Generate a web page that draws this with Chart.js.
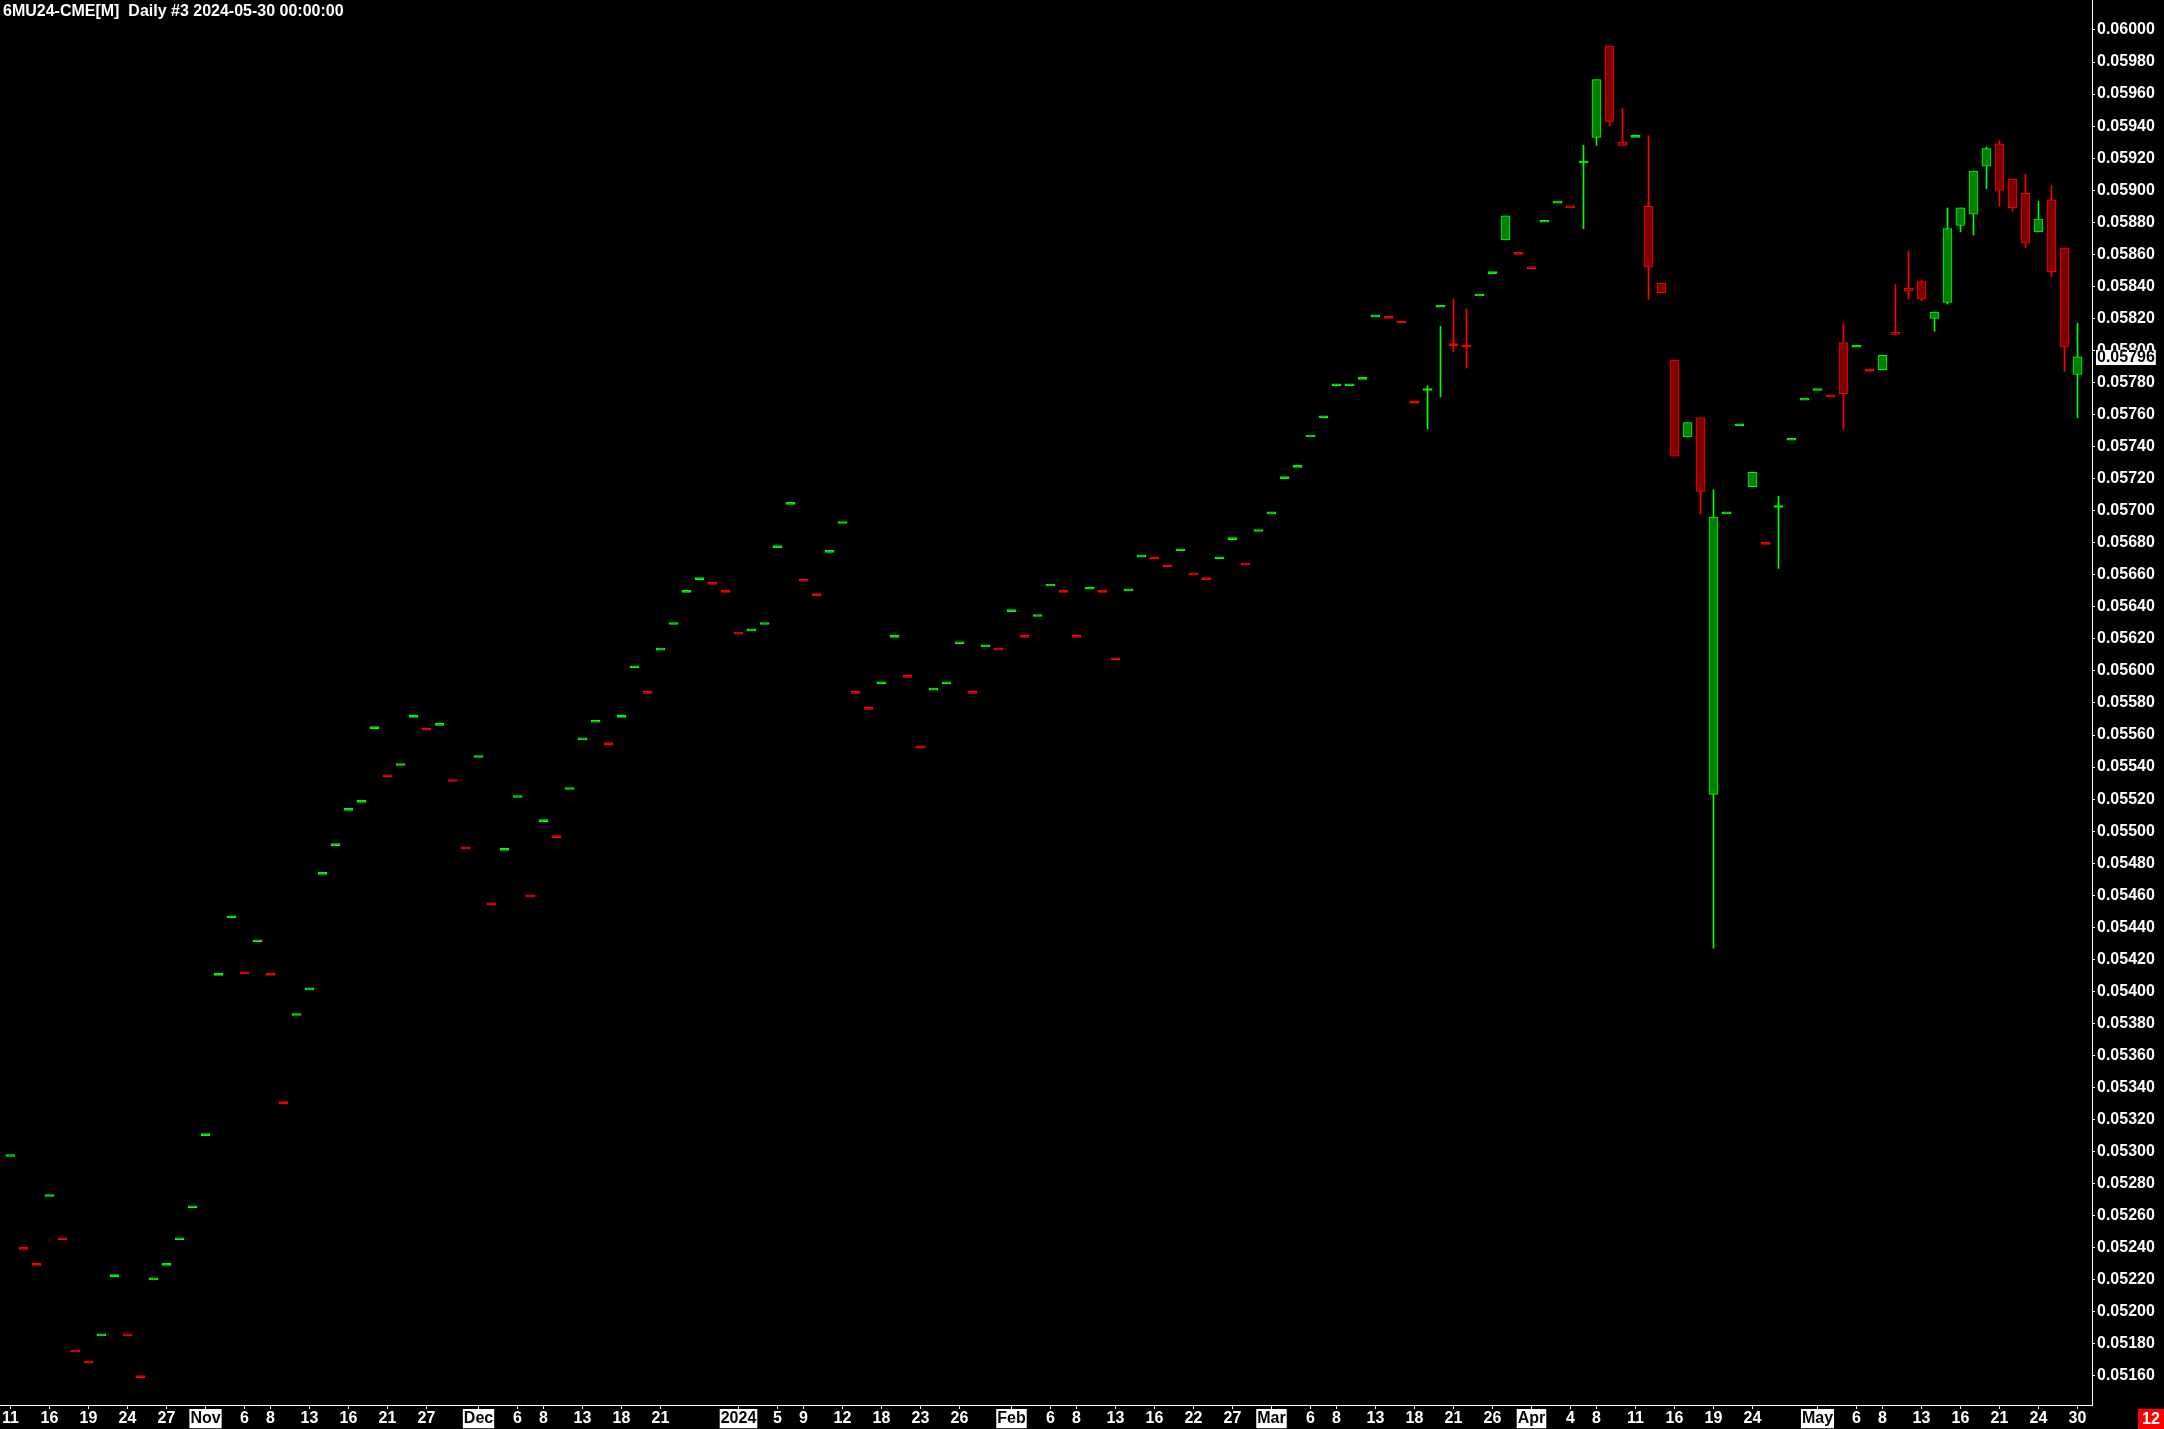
<!DOCTYPE html>
<html>
<head>
<meta charset="utf-8">
<title>6MU24-CME Daily</title>
<script src="https://cdn.jsdelivr.net/npm/chart.js@4.4.1/dist/chart.umd.min.js"></script>
<style>
  html, body { margin: 0; padding: 0; background: #000; }
  canvas { display: block; }
</style>
</head>
<body>
<canvas id="candleChart" width="2164" height="1429"></canvas>
<script>
// trading days on the chart
var dates = [
  '2023-10-11','2023-10-12','2023-10-13','2023-10-16','2023-10-17','2023-10-18','2023-10-19','2023-10-20','2023-10-23','2023-10-24',
  '2023-10-25','2023-10-26','2023-10-27','2023-10-30','2023-10-31','2023-11-01','2023-11-02','2023-11-03','2023-11-06','2023-11-07',
  '2023-11-08','2023-11-09','2023-11-10','2023-11-13','2023-11-14','2023-11-15','2023-11-16','2023-11-17','2023-11-20','2023-11-21',
  '2023-11-22','2023-11-24','2023-11-27','2023-11-28','2023-11-29','2023-11-30','2023-12-01','2023-12-04','2023-12-05','2023-12-06',
  '2023-12-07','2023-12-08','2023-12-11','2023-12-12','2023-12-13','2023-12-14','2023-12-15','2023-12-18','2023-12-19','2023-12-20',
  '2023-12-21','2023-12-22','2023-12-26','2023-12-27','2023-12-28','2023-12-29','2024-01-02','2024-01-03','2024-01-04','2024-01-05',
  '2024-01-08','2024-01-09','2024-01-10','2024-01-11','2024-01-12','2024-01-16','2024-01-17','2024-01-18','2024-01-19','2024-01-22',
  '2024-01-23','2024-01-24','2024-01-25','2024-01-26','2024-01-29','2024-01-30','2024-01-31','2024-02-01','2024-02-02','2024-02-05',
  '2024-02-06','2024-02-07','2024-02-08','2024-02-09','2024-02-12','2024-02-13','2024-02-14','2024-02-15','2024-02-16','2024-02-20',
  '2024-02-21','2024-02-22','2024-02-23','2024-02-26','2024-02-27','2024-02-28','2024-02-29','2024-03-01','2024-03-04','2024-03-05',
  '2024-03-06','2024-03-07','2024-03-08','2024-03-11','2024-03-12','2024-03-13','2024-03-14','2024-03-15','2024-03-18','2024-03-19',
  '2024-03-20','2024-03-21','2024-03-22','2024-03-25','2024-03-26','2024-03-27','2024-03-28','2024-04-01','2024-04-02','2024-04-03',
  '2024-04-04','2024-04-05','2024-04-08','2024-04-09','2024-04-10','2024-04-11','2024-04-12','2024-04-15','2024-04-16','2024-04-17',
  '2024-04-18','2024-04-19','2024-04-22','2024-04-23','2024-04-24','2024-04-25','2024-04-26','2024-04-29','2024-04-30','2024-05-01',
  '2024-05-02','2024-05-03','2024-05-06','2024-05-07','2024-05-08','2024-05-09','2024-05-10','2024-05-13','2024-05-14','2024-05-15',
  '2024-05-16','2024-05-17','2024-05-20','2024-05-21','2024-05-22','2024-05-23','2024-05-24','2024-05-28','2024-05-29','2024-05-30'
];

var opens = [
  0.05297,0.05239,0.05229,0.05272,0.05245,0.05175,0.05168,0.05185,0.05222,0.05185,
  0.05159,0.05220,0.05229,0.05245,0.05265,0.05310,0.05410,0.05446,0.05411,0.05431,
  0.05410,0.05330,0.05385,0.05401,0.05473,0.05491,0.05513,0.05518,0.05564,0.05534,
  0.05541,0.05571,0.05563,0.05566,0.05531,0.05489,0.05546,0.05454,0.05488,0.05521,
  0.05459,0.05506,0.05496,0.05526,0.05557,0.05568,0.05554,0.05571,0.05602,0.05586,
  0.05613,0.05629,0.05649,0.05657,0.05654,0.05649,0.05623,0.05625,0.05629,0.05677,
  0.05704,0.05656,0.05647,0.05674,0.05692,0.05586,0.05576,0.05592,0.05621,0.05596,
  0.05552,0.05588,0.05592,0.05617,0.05586,0.05615,0.05613,0.05637,0.05621,0.05634,
  0.05653,0.05649,0.05621,0.05651,0.05649,0.05607,0.05650,0.05671,0.05670,0.05665,
  0.05675,0.05660,0.05657,0.05670,0.05682,0.05666,0.05687,0.05698,0.05720,0.05727,
  0.05746,0.05758,0.05778,0.05778,0.05782,0.05821,0.05820,0.05817,0.05767,0.05775,
  0.05827,0.05803,0.05802,0.05834,0.05848,0.05869,0.05860,0.05851,0.05880,0.05892,
  0.05889,0.05917,0.05933,0.05990,0.05930,0.05933,0.05890,0.05842,0.05794,0.05746,
  0.05758,0.05523,0.05698,0.05753,0.05715,0.05679,0.05702,0.05744,0.05769,0.05775,
  0.05771,0.05805,0.05802,0.05787,0.05788,0.05811,0.05839,0.05843,0.05820,0.05830,
  0.05878,0.05885,0.05915,0.05929,0.05907,0.05898,0.05874,0.05894,0.05864,0.05785
];

var highs = [
  0.05297,0.05239,0.05229,0.05272,0.05245,0.05175,0.05168,0.05185,0.05222,0.05185,
  0.05159,0.05220,0.05229,0.05245,0.05265,0.05310,0.05410,0.05446,0.05411,0.05431,
  0.05410,0.05330,0.05385,0.05401,0.05473,0.05491,0.05513,0.05518,0.05564,0.05534,
  0.05541,0.05571,0.05563,0.05566,0.05531,0.05489,0.05546,0.05454,0.05488,0.05521,
  0.05459,0.05506,0.05496,0.05526,0.05557,0.05568,0.05554,0.05571,0.05602,0.05586,
  0.05613,0.05629,0.05649,0.05657,0.05654,0.05649,0.05623,0.05625,0.05629,0.05677,
  0.05704,0.05656,0.05647,0.05674,0.05692,0.05586,0.05576,0.05592,0.05621,0.05596,
  0.05552,0.05588,0.05592,0.05617,0.05586,0.05615,0.05613,0.05637,0.05621,0.05634,
  0.05653,0.05649,0.05621,0.05651,0.05649,0.05607,0.05650,0.05671,0.05670,0.05665,
  0.05675,0.05660,0.05657,0.05670,0.05682,0.05666,0.05687,0.05698,0.05720,0.05727,
  0.05746,0.05758,0.05778,0.05778,0.05782,0.05821,0.05820,0.05817,0.05767,0.05778,
  0.05815,0.05832,0.05826,0.05834,0.05848,0.05884,0.05860,0.05851,0.05880,0.05892,
  0.05889,0.05928,0.05969,0.05990,0.05951,0.05933,0.05934,0.05842,0.05794,0.05755,
  0.05758,0.05713,0.05698,0.05753,0.05724,0.05679,0.05709,0.05744,0.05769,0.05775,
  0.05771,0.05817,0.05802,0.05787,0.05797,0.05841,0.05862,0.05844,0.05824,0.05889,
  0.05889,0.05912,0.05927,0.05931,0.05907,0.05910,0.05893,0.05903,0.05864,0.05817
];

var lows = [
  0.05297,0.05239,0.05229,0.05272,0.05245,0.05175,0.05168,0.05185,0.05222,0.05185,
  0.05159,0.05220,0.05229,0.05245,0.05265,0.05310,0.05410,0.05446,0.05411,0.05431,
  0.05410,0.05330,0.05385,0.05401,0.05473,0.05491,0.05513,0.05518,0.05564,0.05534,
  0.05541,0.05571,0.05563,0.05566,0.05531,0.05489,0.05546,0.05454,0.05488,0.05521,
  0.05459,0.05506,0.05496,0.05526,0.05557,0.05568,0.05554,0.05571,0.05602,0.05586,
  0.05613,0.05629,0.05649,0.05657,0.05654,0.05649,0.05623,0.05625,0.05629,0.05677,
  0.05704,0.05656,0.05647,0.05674,0.05692,0.05586,0.05576,0.05592,0.05621,0.05596,
  0.05552,0.05588,0.05592,0.05617,0.05586,0.05615,0.05613,0.05637,0.05621,0.05634,
  0.05653,0.05649,0.05621,0.05651,0.05649,0.05607,0.05650,0.05671,0.05670,0.05665,
  0.05675,0.05660,0.05657,0.05670,0.05682,0.05666,0.05687,0.05698,0.05720,0.05727,
  0.05746,0.05758,0.05778,0.05778,0.05782,0.05821,0.05820,0.05817,0.05767,0.05751,
  0.05771,0.05799,0.05789,0.05834,0.05848,0.05869,0.05860,0.05851,0.05880,0.05892,
  0.05889,0.05876,0.05928,0.05940,0.05928,0.05933,0.05832,0.05836,0.05734,0.05746,
  0.05698,0.05427,0.05698,0.05753,0.05715,0.05679,0.05664,0.05744,0.05769,0.05775,
  0.05771,0.05751,0.05802,0.05787,0.05788,0.05810,0.05832,0.05831,0.05812,0.05829,
  0.05874,0.05872,0.05901,0.05890,0.05887,0.05864,0.05874,0.05846,0.05787,0.05758
];

var closes = [
  0.05297,0.05239,0.05229,0.05272,0.05245,0.05175,0.05168,0.05185,0.05222,0.05185,
  0.05159,0.05220,0.05229,0.05245,0.05265,0.05310,0.05410,0.05446,0.05411,0.05431,
  0.05410,0.05330,0.05385,0.05401,0.05473,0.05491,0.05513,0.05518,0.05564,0.05534,
  0.05541,0.05571,0.05563,0.05566,0.05531,0.05489,0.05546,0.05454,0.05488,0.05521,
  0.05459,0.05506,0.05496,0.05526,0.05557,0.05568,0.05554,0.05571,0.05602,0.05586,
  0.05613,0.05629,0.05649,0.05657,0.05654,0.05649,0.05623,0.05625,0.05629,0.05677,
  0.05704,0.05656,0.05647,0.05674,0.05692,0.05586,0.05576,0.05592,0.05621,0.05596,
  0.05552,0.05588,0.05592,0.05617,0.05586,0.05615,0.05613,0.05637,0.05621,0.05634,
  0.05653,0.05649,0.05621,0.05651,0.05649,0.05607,0.05650,0.05671,0.05670,0.05665,
  0.05675,0.05660,0.05657,0.05670,0.05682,0.05666,0.05687,0.05698,0.05720,0.05727,
  0.05746,0.05758,0.05778,0.05778,0.05782,0.05821,0.05820,0.05817,0.05767,0.05775,
  0.05827,0.05803,0.05802,0.05834,0.05848,0.05884,0.05860,0.05851,0.05880,0.05892,
  0.05889,0.05917,0.05969,0.05943,0.05928,0.05933,0.05852,0.05836,0.05734,0.05755,
  0.05712,0.05696,0.05698,0.05753,0.05724,0.05679,0.05702,0.05744,0.05769,0.05775,
  0.05771,0.05773,0.05802,0.05787,0.05797,0.05810,0.05837,0.05832,0.05824,0.05876,
  0.05889,0.05912,0.05926,0.05900,0.05889,0.05867,0.05882,0.05849,0.05802,0.05796
];

// dates that get a label on the time axis
var xTickDates = [
  '2023-10-11','2023-10-16','2023-10-19','2023-10-24','2023-10-27','2023-11-01','2023-11-06','2023-11-08',
  '2023-11-13','2023-11-16','2023-11-21','2023-11-27','2023-12-01','2023-12-06','2023-12-08','2023-12-13',
  '2023-12-18','2023-12-21','2024-01-02','2024-01-05','2024-01-09','2024-01-12','2024-01-18','2024-01-23',
  '2024-01-26','2024-02-01','2024-02-06','2024-02-08','2024-02-13','2024-02-16','2024-02-22','2024-02-27',
  '2024-03-01','2024-03-06','2024-03-08','2024-03-13','2024-03-18','2024-03-21','2024-03-26','2024-04-01',
  '2024-04-04','2024-04-08','2024-04-11','2024-04-16','2024-04-19','2024-04-24','2024-05-01','2024-05-06',
  '2024-05-08','2024-05-13','2024-05-16','2024-05-21','2024-05-24','2024-05-30'
];
var monthNames = ['Jan','Feb','Mar','Apr','May','Jun','Jul','Aug','Sep','Oct','Nov','Dec'];

var chartTitle = '6MU24-CME[M]  Daily #3 2024-05-30 00:00:00';
var cornerTag = '12';

//-------------
//- layout of the price window
//-------------
var AXIS_W = 72;       // right price scale
var AXIS_H = 24;       // bottom time scale
var BAR_STEP = 13;     // px per trading day
var FIRST_BAR = 10.5;  // px of first bar centre
var X_MIN = -FIRST_BAR / BAR_STEP;
var X_MAX = X_MIN + (2164 - AXIS_W) / BAR_STEP;
var Y_MIN = 0.051419;
var Y_MAX = 0.0601872;

var UP = '#00ff00', UP_FILL = '#008000';
var DN = '#ff0000', DN_FILL = '#800000';
var FONT = '"Liberation Sans", Arial, Helvetica, sans-serif';

Chart.defaults.font.family = FONT;
Chart.defaults.font.size = 16;
Chart.defaults.font.weight = 'bold';
Chart.defaults.color = '#ffffff';

// up / down per bar (flat bars take the colour of the change from prior close)
var dirs = closes.map(function (c, i) {
  if (c > opens[i]) return 1;
  if (c < opens[i]) return -1;
  return (i > 0 && c < closes[i - 1]) ? -1 : 1;
});

var bodyData = [], bodyFill = [], bodyLine = [];
var wickData = [], wickColor = [];
for (var i = 0; i < dates.length; i++) {
  var bright = dirs[i] > 0 ? UP : DN;
  bodyData.push({ x: i, y: [opens[i], closes[i]] });
  // flat bars are drawn as a bright dash
  bodyFill.push(opens[i] === closes[i] ? bright : (dirs[i] > 0 ? UP_FILL : DN_FILL));
  bodyLine.push(bright);
  if (highs[i] > lows[i]) {
    wickData.push({ x: i, y: [lows[i], highs[i]] });
    wickColor.push(bright);
  }
}

// tick positions and their texts
var tickIdx = [], tickText = {}, tickIsMonth = {};
xTickDates.forEach(function (d) {
  var idx = dates.indexOf(d);
  var isMonth = idx > 0 && dates[idx - 1].slice(5, 7) !== d.slice(5, 7);
  var m = parseInt(d.slice(5, 7), 10);
  var txt;
  if (isMonth) txt = (m === 1) ? d.slice(0, 4) : monthNames[m - 1];
  else txt = String(parseInt(d.slice(8, 10), 10));
  tickIdx.push(idx);
  tickText[idx] = txt;
  tickIsMonth[idx] = isMonth;
});

var backgroundPlugin = {
  id: 'blackBg',
  beforeDraw: function (chart) {
    var ctx = chart.ctx;
    ctx.save();
    ctx.fillStyle = '#000';
    ctx.fillRect(0, 0, chart.width, chart.height);
    ctx.restore();
  }
};

var overlayPlugin = {
  id: 'overlay',
  afterDraw: function (chart) {
    var ctx = chart.ctx;
    var area = chart.chartArea;
    ctx.save();
    ctx.font = 'bold 16px ' + FONT;

    // title
    ctx.fillStyle = '#fff';
    ctx.textAlign = 'left';
    ctx.textBaseline = 'alphabetic';
    ctx.fillText(chartTitle, 3, 16);

    // last price tag
    var last = closes[closes.length - 1];
    var ly = chart.scales.y.getPixelForValue(last);
    var txt = last.toFixed(5);
    var tw = ctx.measureText(txt).width;
    ctx.fillStyle = '#fff';
    ctx.fillRect(area.right + 4, Math.round(ly) - 7, tw + 2, 15);
    ctx.fillStyle = '#000';
    ctx.textBaseline = 'middle';
    ctx.fillText(txt, area.right + 5, ly + 1);

    // corner box
    ctx.fillStyle = '#ff0000';
    ctx.fillRect(chart.width - 26, area.bottom + 4, 26, 20);
    ctx.fillStyle = '#fff';
    ctx.textAlign = 'center';
    ctx.fillText(cornerTag, chart.width - 13, area.bottom + 14.5);
    ctx.restore();
  }
};

var candleCanvas = document.getElementById('candleChart').getContext('2d');
new Chart(candleCanvas, {
  type: 'bar',
  data: {
    datasets: [
      {
        label: 'body',
        data: bodyData,
        backgroundColor: bodyFill,
        borderColor: bodyLine,
        borderWidth: 1,
        borderSkipped: false,
        barThickness: 9,
        minBarLength: 2,
        grouped: false,
        order: 1
      },
      {
        label: 'wick',
        data: wickData,
        backgroundColor: wickColor,
        borderWidth: 0,
        barThickness: 1,
        grouped: false,
        order: 2
      }
    ]
  },
  options: {
    responsive: false,
    animation: false,
    events: [],
    layout: { padding: 0 },
    plugins: {
      legend: { display: false },
      tooltip: { enabled: false },
      title: { display: false }
    },
    scales: {
      x: {
        type: 'linear',
        min: X_MIN,
        max: X_MAX,
        offset: false,
        grid: { drawOnChartArea: false, drawTicks: true, tickLength: 4, color: '#fff', offset: false },
        border: { display: true, color: '#fff', width: 1 },
        afterBuildTicks: function (scale) {
          scale.ticks = tickIdx.map(function (v) { return { value: v }; });
        },
        afterFit: function (scale) {
          scale.height = AXIS_H;
          scale.paddingLeft = 0;
          scale.paddingRight = 0;
        },
        ticks: {
          autoSkip: false,
          maxRotation: 0,
          minRotation: 0,
          padding: 0,
          font: { size: 16, weight: 'bold' },
          callback: function (value) { return tickText[value] || ''; },
          color: function (c) { return tickIsMonth[c.tick.value] ? '#000' : '#fff'; },
          showLabelBackdrop: function (c) { return !!tickIsMonth[c.tick.value]; },
          backdropColor: '#fff',
          backdropPadding: { x: 1, y: 0 }
        }
      },
      y: {
        type: 'linear',
        position: 'right',
        min: Y_MIN,
        max: Y_MAX,
        grid: { drawOnChartArea: false, drawTicks: true, tickLength: 3, color: '#fff' },
        border: { display: true, color: '#fff', width: 1 },
        afterFit: function (scale) {
          scale.width = AXIS_W;
          scale.paddingTop = 0;
          scale.paddingBottom = 0;
        },
        ticks: {
          stepSize: 0.0002,
          includeBounds: false,
          padding: 2,
          font: { size: 16, weight: 'bold' },
          callback: function (value) { return value.toFixed(5); }
        }
      }
    }
  },
  plugins: [backgroundPlugin, overlayPlugin]
});
</script>
</body>
</html>
